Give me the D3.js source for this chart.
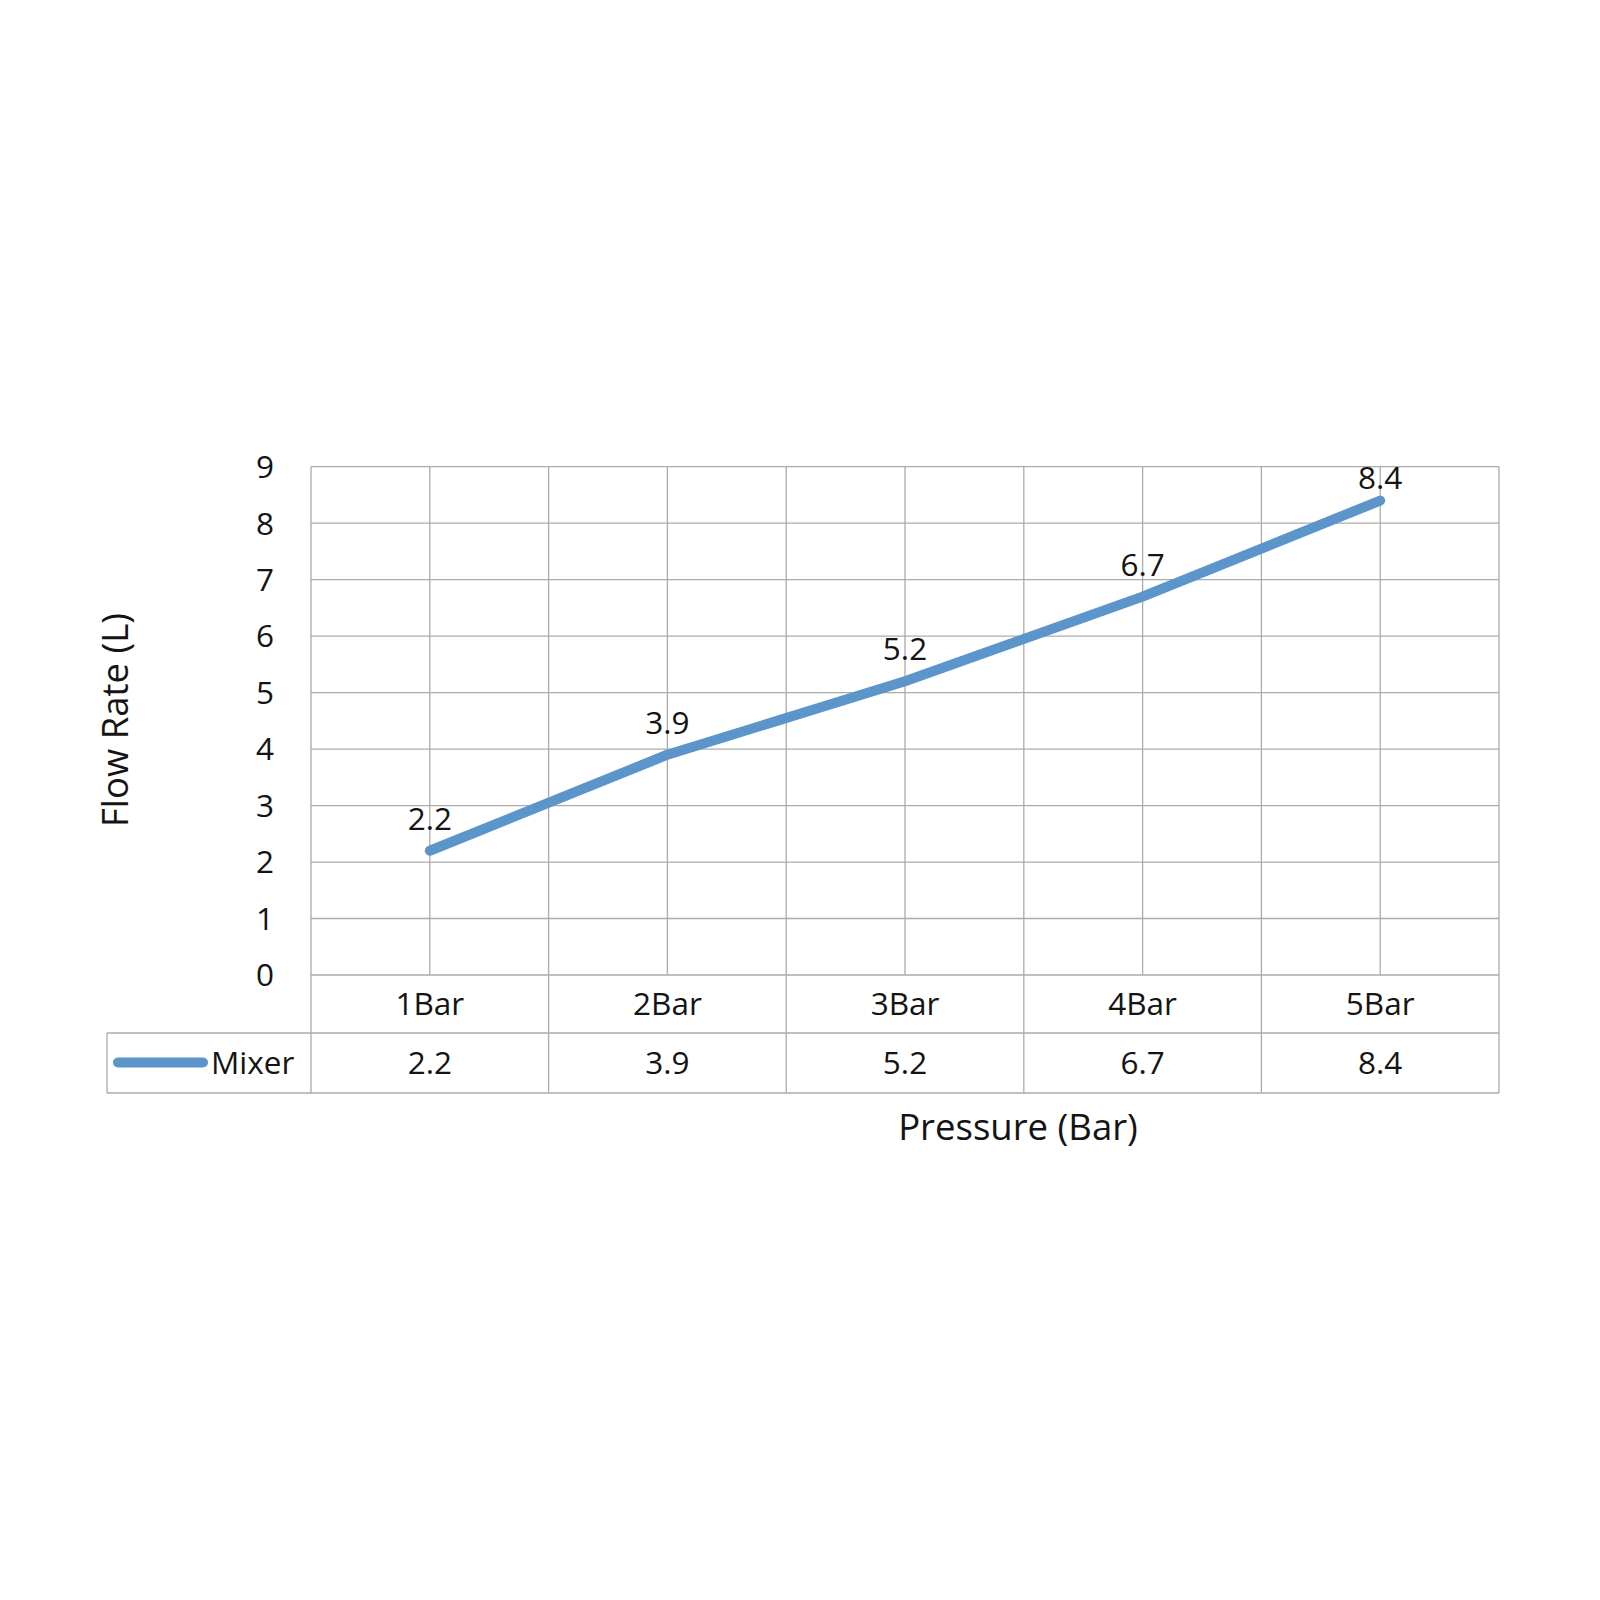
<!DOCTYPE html>
<html><head><meta charset="utf-8">
<script src="https://cdn.jsdelivr.net/npm/d3@7"></script>
<style>body{margin:0;background:#fff}svg text{font-family:"Open Sans",sans-serif;fill:#141414}</style>
</head><body><svg id="c" width="1600" height="1600"></svg>
<script>
const categories = ["1Bar","2Bar","3Bar","4Bar","5Bar"];
const mixerValues = [2.2,3.9,5.2,6.7,8.4];
const yTicks = [0,1,2,3,4,5,6,7,8,9];
const seriesName = "Mixer";
const xTitle = "Pressure (Bar)";
const yTitle = "Flow Rate (L)";

const svg = d3.select("#c");
const L = 311, R = 1499, T = 466.7, B = 975;
const row1B = 1033, row2B = 1093, legL = 107;
const grid = "#ababab", blue = "#5b95c9";
const fs = 31.5, tfs = 36.5;

const x = d3.scaleBand().domain(categories).range([L, R]).padding(0);
const y = d3.scaleLinear().domain([0, 9]).range([B, T]);
const cx = c => x(c) + x.bandwidth() / 2;

const g = svg.append("g");
g.selectAll(".hg").data(yTicks).join("line")
  .attr("x1", L).attr("x2", R).attr("y1", d => y(d)).attr("y2", d => y(d))
  .attr("stroke", grid).attr("stroke-width", 1.3);
g.selectAll(".vc").data(categories).join("line")
  .attr("x1", cx).attr("x2", cx).attr("y1", T).attr("y2", B)
  .attr("stroke", grid).attr("stroke-width", 1.3);
const bounds = categories.map(c => x(c)).concat([R]);
g.selectAll(".vb").data(bounds).join("line")
  .attr("x1", d => d).attr("x2", d => d).attr("y1", T).attr("y2", row2B)
  .attr("stroke", grid).attr("stroke-width", 1.3);
g.append("line").attr("x1", legL).attr("x2", R).attr("y1", row1B).attr("y2", row1B).attr("stroke", grid).attr("stroke-width", 1.3);
g.append("line").attr("x1", legL).attr("x2", R).attr("y1", row2B).attr("y2", row2B).attr("stroke", grid).attr("stroke-width", 1.3);
g.append("line").attr("x1", legL).attr("x2", legL).attr("y1", row1B).attr("y2", row2B).attr("stroke", grid).attr("stroke-width", 1.3);

g.selectAll(".yt").data(yTicks).join("text")
  .attr("x", 274).attr("y", d => y(d)).attr("dy", "0.36em")
  .attr("text-anchor", "end").attr("font-size", fs).text(d => d);

const line = d3.line().x((d, i) => cx(categories[i])).y(d => y(d));
g.append("path").datum(mixerValues).attr("d", line)
  .attr("fill", "none").attr("stroke", blue).attr("stroke-width", 10)
  .attr("stroke-linecap", "round").attr("stroke-linejoin", "round");

g.selectAll(".dl").data(mixerValues).join("text")
  .attr("x", (d, i) => cx(categories[i]))
  .attr("y", d => Math.max(y(d) - 21, T + 22))
  .attr("text-anchor", "middle").attr("font-size", fs).text(d => d);

g.selectAll(".ct").data(categories).join("text")
  .attr("x", cx).attr("y", (B + row1B) / 2).attr("dy", "0.36em")
  .attr("text-anchor", "middle").attr("font-size", fs).text(d => d);
g.selectAll(".tv").data(mixerValues).join("text")
  .attr("x", (d, i) => cx(categories[i])).attr("y", (row1B + row2B) / 2).attr("dy", "0.36em")
  .attr("text-anchor", "middle").attr("font-size", fs).text(d => d);
g.append("line").attr("x1", 118).attr("x2", 203).attr("y1", 1062.5).attr("y2", 1062.5)
  .attr("stroke", blue).attr("stroke-width", 10).attr("stroke-linecap", "round");
g.append("text").attr("x", 211).attr("y", 1063).attr("dy", "0.36em").attr("font-size", fs).text(seriesName);

g.append("text").attr("x", 1018).attr("y", 1140).attr("text-anchor", "middle").attr("font-size", tfs).text(xTitle);
g.append("text").attr("transform", "translate(128,720) rotate(-90)").attr("text-anchor", "middle").attr("font-size", tfs).text(yTitle);
</script></body></html>
